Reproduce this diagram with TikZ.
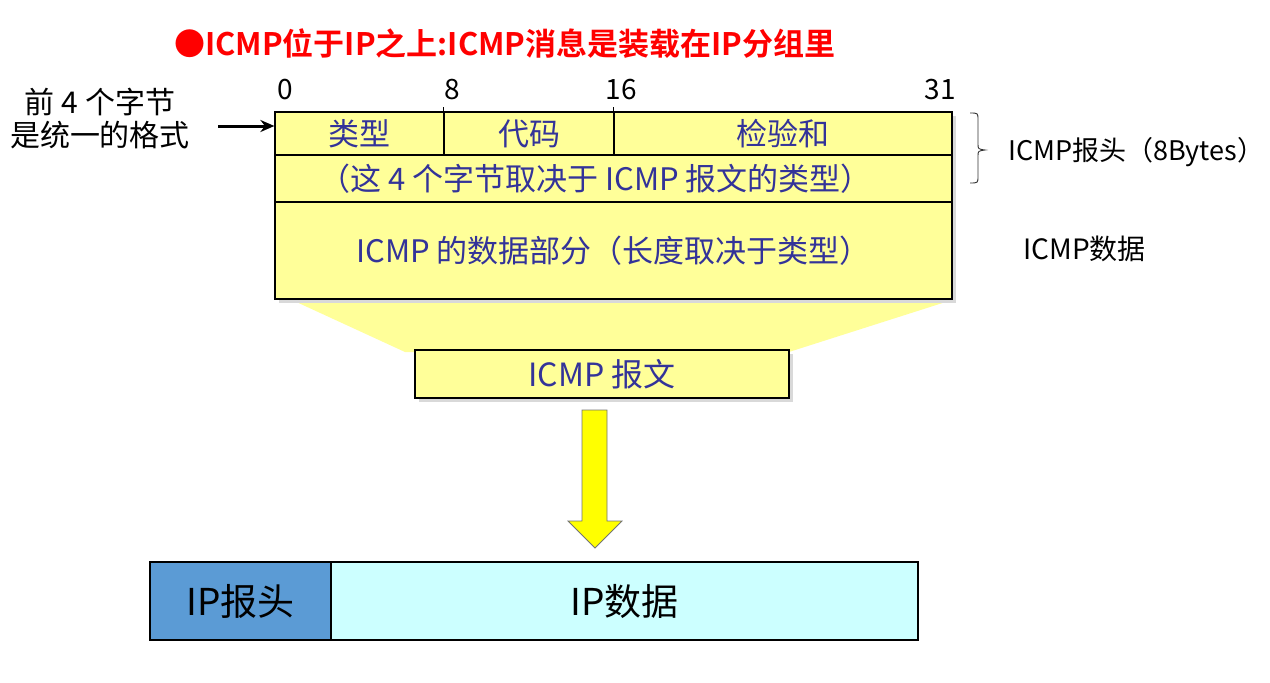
\documentclass[tikz,border=0pt]{standalone}
\usepackage{fontspec}
\setmainfont{Noto Sans CJK SC}[BoldFont={Noto Sans CJK SC Bold}]
\usetikzlibrary{arrows.meta}
\definecolor{cellfill}{HTML}{FFFF99}
\definecolor{celltext}{HTML}{333399}
\definecolor{shadowgray}{HTML}{D9D9D9}
\definecolor{titlered}{HTML}{FF0000}
\definecolor{iphdrblue}{HTML}{5B9BD5}
\definecolor{ipdatacyan}{HTML}{CCFFFF}
\definecolor{bigarrow}{HTML}{FFFF00}
\newcommand{\fsz}[1]{\fontsize{#1}{#1}\selectfont}
\tikzset{
  cell/.style={draw=black, line width=1.2pt, fill=cellfill, rectangle, inner sep=0pt,
    text=celltext, font=\fsz{31}},
  ipcell/.style={draw=black, line width=2.5pt, rectangle, inner sep=0pt, text=black, font=\fsz{37}},
  plain/.style={inner sep=0pt, text=black},
  shadowbox/.style={fill=shadowgray, draw=none}
}
\begin{document}
\begin{tikzpicture}[x=1pt,y=-1pt]
\useasboundingbox (0,0) rectangle (1270,683);

% title
\node[plain, text=titlered, font=\fsz{31}\bfseries, anchor=west] (title) at (174,44) {●ICMP位于IP之上:ICMP消息是装载在IP分组里};

% left explanation
\node[plain, font=\fsz{30}, align=center] (lefttext) at (100,119) {前 4 个字节\\[3pt]是统一的格式};

% bit labels
\node[plain, font=\fsz{28}] (b0) at (285,90) {0};
\node[plain, font=\fsz{28}] (b8) at (452,90) {8};
\node[plain, font=\fsz{28}] (b16) at (621,90) {16};
\node[plain, font=\fsz{28}] (b31) at (940,90) {31};

% trapezoid
\fill[cellfill] (292,300) -- (952,300) -- (789,352) -- (405,352) -- cycle;

% shadows
\fill[shadowbox] (279,116) rectangle (956,303);
\fill[shadowbox] (419,354) rectangle (793,402);

% main header cells
\node[cell, minimum width=169pt, minimum height=43pt] (type) at (359.5,133.5) {类型};
\node[cell, minimum width=170pt, minimum height=43pt] (code) at (529,133.5) {代码};
\node[cell, minimum width=338pt, minimum height=43pt] (csum) at (783,133.5) {检验和};
\node[cell, minimum width=677pt, minimum height=47pt] (rest) at (613.5,178.5) {（这 4 个字节取决于 ICMP 报文的类型）\hspace*{36pt}};
\node[cell, minimum width=677pt, minimum height=97pt] (data) at (613.5,250.5) {ICMP 的数据部分（长度取决于类型）};
\draw[line width=1.2pt] (code.north west) -- ++(0,-4);
\draw[line width=1.2pt] (csum.north west) -- ++(0,-4);

% left arrow
\coordinate (arrowstart) at (218,126);
\draw[line width=3pt, -{Stealth[length=14pt,width=12pt]}] (arrowstart) -- (arrowstart -| type.west);

% brace and right labels
\draw[line width=0.9pt, black!80] (970,113) .. controls (978,113) .. (978,120) -- (978,144)
  .. controls (978,149) .. (985,150) .. controls (978,151) .. (978,156) -- (978,176)
  .. controls (978,183) .. (970,183);
\node[plain, font=\fsz{27}, anchor=west] (hdrlabel) at (1008,152) {ICMP报头（8Bytes）};
\node[plain, font=\fsz{28}, anchor=west] (datalabel) at (1023,249) {ICMP数据};

% ICMP message box
\node[cell, minimum width=374pt, minimum height=48pt, font=\fsz{32}] (icmpmsg) at (602,374) {ICMP 报文};

% big yellow arrow
\fill[bigarrow, draw=black!55, line width=0.8pt] (582,410) -- (607,410) -- (607,521) -- (622,521) -- (595,548) -- (568,521) -- (582,521) -- cycle;

% IP packet
\node[ipcell, fill=iphdrblue, minimum width=181pt, minimum height=78pt] (iphdr) at (240.5,601) {IP报头};
\node[ipcell, fill=ipdatacyan, minimum width=587pt, minimum height=78pt] (ipdata) at (624.5,601) {IP数据};
\end{tikzpicture}
\end{document}
